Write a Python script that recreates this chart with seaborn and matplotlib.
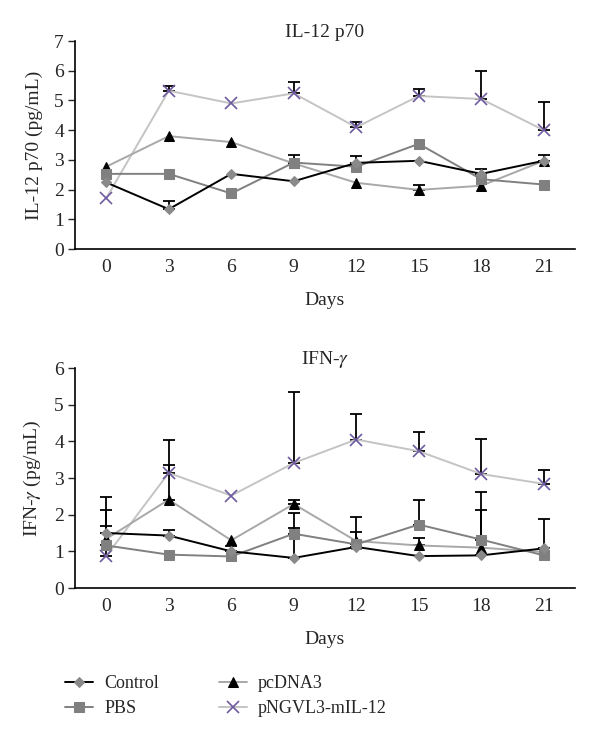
import numpy as np
import pandas as pd
import matplotlib
matplotlib.use("Agg")
import matplotlib.pyplot as plt
import seaborn as sns

days = [0, 3, 6, 9, 12, 15, 18, 21]
series_names = ["Control", "PBS", "pcDNA3", "pNGVL3-mIL-12"]

# IL-12 p70 values
il12_control = [2.24, 1.34, 2.53, 2.28, 2.90, 2.97, 2.53, 2.97]
il12_pbs = [2.53, 2.53, 1.87, 2.91, 2.77, 3.54, 2.35, 2.17]
il12_pcdna3 = [2.77, 3.80, 3.60, 2.88, 2.23, 1.99, 2.13, 2.97]
il12_pngvl3 = [1.71, 5.33, 4.90, 5.24, 4.10, 5.15, 5.05, 4.00]
# upper error bar tops (nan = none)
il12_control_err = [np.nan, 1.60, np.nan, np.nan, 3.13, np.nan, 2.69, 3.18]
il12_pbs_err = [np.nan, np.nan, np.nan, 3.18, np.nan, np.nan, np.nan, np.nan]
il12_pcdna3_err = [np.nan, np.nan, np.nan, np.nan, np.nan, 2.15, np.nan, np.nan]
il12_pngvl3_err = [np.nan, 5.50, np.nan, 5.62, 4.29, 5.38, 5.99, 4.96]

# IFN-gamma values
ifn_control = [1.50, 1.43, 1.00, 0.82, 1.12, 0.87, 0.89, 1.08]
ifn_pbs = [1.16, 0.91, 0.86, 1.48, 1.19, 1.73, 1.32, 0.89]
ifn_pcdna3 = [1.34, 2.41, 1.30, 2.29, 1.28, 1.16, 1.10, 0.98]
ifn_pngvl3 = [0.87, 3.14, 2.52, 3.41, 4.05, 3.73, 3.11, 2.84]
ifn_control_err = [2.12, 1.57, 1.14, 1.64, 1.94, np.nan, 2.12, 1.89]
ifn_pbs_err = [1.70, np.nan, np.nan, 2.05, 1.53, 2.39, 2.63, np.nan]
ifn_pcdna3_err = [np.nan, 4.05, np.nan, 2.41, np.nan, 1.36, np.nan, np.nan]
ifn_pngvl3_err = [2.47, 3.36, np.nan, 5.34, 4.75, 4.26, 4.06, 3.21]

sns.set_style("white")
plt.rcParams["font.family"] = ["Liberation Serif", "DejaVu Serif"]
plt.rcParams["mathtext.fontset"] = "stix"

FS = 14

styles = {
    "Control": dict(color="black", marker="D", markerfacecolor="#8a8a8a",
                    markeredgecolor="#8a8a8a", markersize=5.5, linewidth=1.4),
    "PBS": dict(color="#808080", marker="s", markerfacecolor="#808080",
                markeredgecolor="#808080", markersize=7.5, linewidth=1.4),
    "pcDNA3": dict(color="#a8a8a8", marker="^", markerfacecolor="black",
                   markeredgecolor="black", markersize=6.5, linewidth=1.4),
    "pNGVL3-mIL-12": dict(color="#c4c4c4", marker="x", markerfacecolor="#6e5a9e",
                          markeredgecolor="#6e5a9e", markersize=8, markeredgewidth=1.2,
                          linewidth=1.4),
}

fig = plt.figure(figsize=(6, 7.4), dpi=100)
ax1 = fig.add_axes([0.125, 0.6635, 0.8333, 0.281])
ax2 = fig.add_axes([0.125, 0.2054, 0.8333, 0.2973])

panels = [
    (ax1, [il12_control, il12_pbs, il12_pcdna3, il12_pngvl3],
     [il12_control_err, il12_pbs_err, il12_pcdna3_err, il12_pngvl3_err],
     "IL-12 p70", "IL-12 p70 (pg/mL)", 7),
    (ax2, [ifn_control, ifn_pbs, ifn_pcdna3, ifn_pngvl3],
     [ifn_control_err, ifn_pbs_err, ifn_pcdna3_err, ifn_pngvl3_err],
     r"IFN-$\gamma$", r"IFN-$\gamma$ (pg/mL)", 6),
]

handles = {}
for ax, vals, errs, title, ylabel, ymax in panels:
    order = [3, 2, 1, 0]
    for i in order:
        name = series_names[i]
        v = np.array(vals[i], dtype=float)
        e = np.array(errs[i], dtype=float)
        up = np.where(np.isnan(e), 0, e - v)
        mask = ~np.isnan(e)
        d = np.array(days)
        ax.errorbar(d[mask], v[mask], yerr=[np.zeros(mask.sum()), up[mask]],
                    fmt="none", ecolor="black", elinewidth=1.3, capsize=4,
                    capthick=1.3, zorder=2)
        df = pd.DataFrame({"Days": days, "val": v})
        sns.lineplot(data=df, x="Days", y="val", ax=ax, zorder=3 + (3 - i),
                     **styles[name])
        handles[name] = ax.lines[-1]
    ax.set_xlim(-1.5, 22.5)
    ax.set_ylim(0, ymax)
    ax.set_xticks(days)
    ax.set_xticklabels([str(x) for x in days])
    ax.set_yticks(range(0, ymax + 1))
    ax.tick_params(axis="x", length=0, labelsize=FS, pad=7)
    ax.tick_params(axis="y", length=5, width=1, direction="out", labelsize=FS,
                   left=True, pad=3)
    for s in ["top", "right"]:
        ax.spines[s].set_visible(False)
    for s in ["left", "bottom"]:
        ax.spines[s].set_color("black")
        ax.spines[s].set_linewidth(1.2)
    ax.set_title(title, fontsize=FS, pad=3)
    ax.set_ylabel(ylabel, fontsize=FS, labelpad=8)
    ax.set_xlabel("Days", fontsize=FS, labelpad=12)

fig.legend([handles[n] for n in series_names], series_names,
           loc="upper left", bbox_to_anchor=(0.082, 0.110), ncol=2,
           frameon=False, fontsize=13, handlelength=1.55, columnspacing=3.3,
           labelspacing=0.45, handletextpad=0.6)

fig.savefig("out.png", dpi=100)
